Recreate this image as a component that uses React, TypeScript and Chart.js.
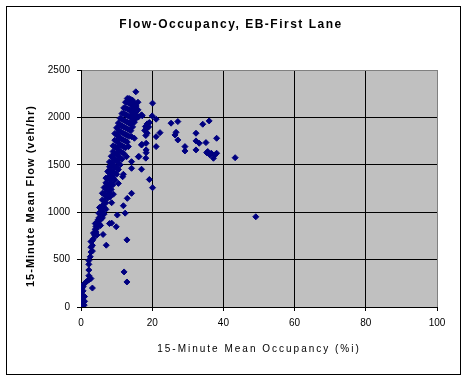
import React, { useEffect, useRef } from "react";
import { Chart, registerables } from "chart.js";

Chart.register(...registerables);

const chartTitle = "Flow-Occupancy, EB-First Lane";
const xAxisTitle = "15-Minute Mean Occupancy (%i)";
const yAxisTitle = "15-Minute Mean Flow (veh/hr)";

const xTicks = [0, 20, 40, 60, 80, 100];
const yTicks = [0, 500, 1000, 1500, 2000, 2500];

// [occupancy %, flow veh/hr] — uncongested branch
const freeFlowPoints: [number, number][] = [
  [0, 20], [0, 60], [0, 100], [0, 140], [0, 180],
  [0.3, 30], [0.3, 80], [0.3, 120], [0.3, 160], [0.3, 200],
  [0.6, 50], [0.6, 110], [0.6, 170], [0.6, 215],
  [0.9, 20], [1.0, 60], [1.0, 110], [0.5, 10],
  [0.8, 240], [1.3, 260], [1.8, 275], [2.3, 290], [2.8, 300],
  [2.2, 330], [2.2, 390], [2.2, 450], [2.2, 490],
  [2.6, 530], [3.2, 590],
  [2.8, 580], [2.8, 630], [2.8, 690], [3.2, 650], [3.2, 700],
  [3.5, 720], [3.5, 780], [4.5, 760],
  [3.8, 760], [4.0, 820], [4.2, 790], [4.2, 850], [4.0, 880],
  [4.5, 830], [4.5, 890], [4.8, 920],
  [5, 880], [5, 940], [5, 990], [5.5, 860], [5.5, 920], [5.5, 980], [5.5, 1040], [5.2, 1050],
  [6, 940], [6, 1000], [6, 1070], [6, 1130], [6, 1200],
  [6.5, 980], [6.5, 1050], [6.5, 1120], [6.5, 1190], [6.5, 1260],
  [7, 1030], [7, 1100], [7, 1170], [7, 1240], [7, 1310], [7, 1360],
  [7.5, 1150], [7.5, 1220], [7.5, 1290], [7.5, 1360], [7.5, 1430],
  [8, 1200], [8, 1270], [8, 1340], [8, 1410], [8, 1480], [8, 1530],
  [8.5, 1240], [8.5, 1310], [8.5, 1380], [8.5, 1450], [8.5, 1520], [8.5, 1590],
  [9, 1290], [9, 1360], [9, 1430], [9, 1500], [9, 1570], [9, 1640], [9, 1700],
  [9.5, 1340], [9.5, 1410], [9.5, 1480], [9.5, 1550], [9.5, 1620], [9.5, 1690], [9.5, 1760], [9.5, 1830],
  [10, 1400], [10, 1470], [10, 1540], [10, 1610], [10, 1680], [10, 1750], [10, 1820], [10, 1890],
  [10.5, 1450], [10.5, 1520], [10.5, 1590], [10.5, 1660], [10.5, 1730], [10.5, 1800], [10.5, 1870], [10.5, 1940],
  [11, 1500], [11, 1570], [11, 1640], [11, 1710], [11, 1780], [11, 1850], [11, 1920], [11, 1990],
  [11.5, 1560], [11.5, 1630], [11.5, 1700], [11.5, 1770], [11.5, 1840], [11.5, 1910], [11.5, 1980], [11.5, 2040],
  [12, 1620], [12, 1690], [12, 1760], [12, 1830], [12, 1900], [12, 1970], [12, 2040], [12, 2100],
  [12.5, 1680], [12.5, 1750], [12.5, 1820], [12.5, 1890], [12.5, 1960], [12.5, 2030], [12.5, 2100], [12.5, 2160],
  [13, 1740], [13, 1810], [13, 1880], [13, 1950], [13, 2020], [13, 2090], [13, 2160], [13, 2200],
  [13.5, 1800], [13.5, 1870], [13.5, 1940], [13.5, 2010], [13.5, 2080], [13.5, 2150], [13.5, 2200],
  [14, 1860], [14, 1930], [14, 2000], [14, 2070], [14, 2140], [14, 2190],
  [14.5, 1900], [14.5, 1970], [14.5, 2040], [14.5, 2110], [14.5, 2180],
  [15, 1950], [15, 2020], [15, 2090], [15, 2150],
  [15.5, 1990], [15.5, 2060], [15.5, 2120], [15.4, 2270],
  [16, 2010], [16, 2080], [16, 2160],
];

// [occupancy %, flow veh/hr] — scattered readings below / right of the main branch
const scatterPoints: [number, number][] = [
  [3.2, 200], [6.2, 765], [7.1, 652], [8.0, 880], [8.6, 885], [9.9, 846], [10.2, 970],
  [12.4, 990], [11.9, 1068], [13.0, 1146], [14.2, 1199], [12.1, 370], [12.9, 264], [12.9, 708],
  [8.1, 1160], [8.6, 1100], [9.1, 1190], [11.7, 1374], [10.5, 1304], [11.9, 1400],
  [14.2, 1533], [14.2, 1463], [13.3, 1692], [14.2, 1797], [12.8, 1586], [15.0, 1780],
  [16.1, 1586], [17.0, 1453], [17.0, 1709], [18.3, 1657], [18.3, 1727], [18.2, 1570],
  [18.3, 1628], [19.2, 1345], [20.1, 1258], [16.3, 1587],
  [20.1, 2150], [20.0, 2016], [21.1, 1981], [17.0, 2027], [17.2, 2017], [16.1, 2003],
  [18.6, 1932], [18.1, 1904], [19.2, 1946], [17.9, 1862], [18.6, 1834], [18.2, 1809],
  [18.4, 1880], [19.0, 1900], [22.2, 1839], [21.1, 1797], [21.1, 1692], [17.1, 1716],
];

// [occupancy %, flow veh/hr] — congested branch
const congestedPoints: [number, number][] = [
  [25.3, 1939], [27.2, 1956], [26.7, 1843], [26.4, 1815], [27.2, 1762],
  [29.2, 1692], [29.2, 1646], [32.3, 1833], [32.3, 1752], [33.2, 1727], [32.3, 1657],
  [34.2, 1928], [36.0, 1963], [35.1, 1734], [38.1, 1780], [35.3, 1628], [36.2, 1604],
  [37.2, 1569], [38.1, 1622], [36.6, 1622], [37.6, 1604], [35.6, 1640],
  [43.3, 1575], [49.1, 952],
];

const FONT = "'Liberation Sans', Arial, sans-serif";
const NAVY = "#000080";

const decorPlugin = {
  id: "decor",
  beforeDraw(chart: any) {
    const { ctx, chartArea: a, width, height } = chart;
    ctx.save();
    ctx.fillStyle = "#ffffff";
    ctx.fillRect(0, 0, width, height);
    ctx.strokeStyle = "#000000";
    ctx.lineWidth = 1;
    ctx.strokeRect(6.5, 6.5, 454, 368);
    ctx.fillStyle = "#c0c0c0";
    ctx.fillRect(a.left, a.top, a.right - a.left, a.bottom - a.top);
    ctx.restore();
  },
  afterDraw(chart: any) {
    const { ctx } = chart;
    ctx.save();
    ctx.fillStyle = "#000000";
    ctx.textAlign = "center";
    ctx.textBaseline = "alphabetic";
    // chart title
    ctx.font = `bold 12px ${FONT}`;
    (ctx as any).letterSpacing = "1.5px";
    ctx.fillText(chartTitle, 231, 28);
    // x-axis title
    ctx.font = `10px ${FONT}`;
    (ctx as any).letterSpacing = "2px";
    ctx.fillText(xAxisTitle, 259, 352);
    // y-axis title
    ctx.font = `bold 11px ${FONT}`;
    (ctx as any).letterSpacing = "1px";
    ctx.translate(34, 196);
    ctx.rotate(-Math.PI / 2);
    ctx.fillText(yAxisTitle, 0, 0);
    ctx.restore();
  },
};

export default function App() {
  const ref = useRef<HTMLCanvasElement | null>(null);

  useEffect(() => {
    if (!ref.current) return;
    const toXY = (arr: [number, number][]) => arr.map(([x, y]) => ({ x, y }));
    const data = [
      ...toXY(freeFlowPoints),
      ...toXY(scatterPoints),
      ...toXY(congestedPoints),
    ];
    const chart = new Chart(ref.current, {
      type: "scatter",
      data: {
        datasets: [
          {
            label: "Flow",
            data,
            pointStyle: "rectRot",
            pointRadius: 3,
            pointBorderWidth: 1,
            backgroundColor: NAVY,
            borderColor: NAVY,
            showLine: false,
          },
        ],
      },
      options: {
        responsive: false,
        animation: false,
        layout: { padding: { left: 0, top: 70, right: 31, bottom: 0 } },
        plugins: {
          legend: { display: false },
          title: { display: false },
          tooltip: { enabled: false },
        },
        scales: {
          x: {
            type: "linear",
            min: 0,
            max: 100,
            afterFit: (s: any) => { s.height = 70; },
            afterBuildTicks: (s: any) => { s.ticks = xTicks.map((v) => ({ value: v })); },
            ticks: {
              padding: 6,
              color: "#000",
              font: { family: FONT, size: 10 },
              callback: (v: any) => String(v),
            },
            grid: {
              color: (c: any) => (c.tick && c.tick.value === 100 ? "#808080" : "#000000"),
              tickColor: "#000000",
              lineWidth: 1,
              tickLength: 4,
            },
            border: { color: "#000000", width: 1 },
          },
          y: {
            type: "linear",
            min: 0,
            max: 2500,
            afterFit: (s: any) => { s.width = 81; },
            afterBuildTicks: (s: any) => { s.ticks = yTicks.map((v) => ({ value: v })); },
            ticks: {
              padding: 7,
              color: "#000",
              font: { family: FONT, size: 10 },
              callback: (v: any) => String(v),
            },
            grid: {
              color: (c: any) => (c.tick && c.tick.value === 2500 ? "#808080" : "#000000"),
              tickColor: "#000000",
              lineWidth: 1,
              tickLength: 4,
            },
            border: { color: "#000000", width: 1 },
          },
        },
      },
      plugins: [decorPlugin],
    });
    return () => chart.destroy();
  }, []);

  return (
    <div style={{ position: "absolute", left: 0, top: 0, width: 468, height: 377, background: "#fff" }}>
      <canvas ref={ref} width={468} height={377} style={{ display: "block" }} />
    </div>
  );
}
